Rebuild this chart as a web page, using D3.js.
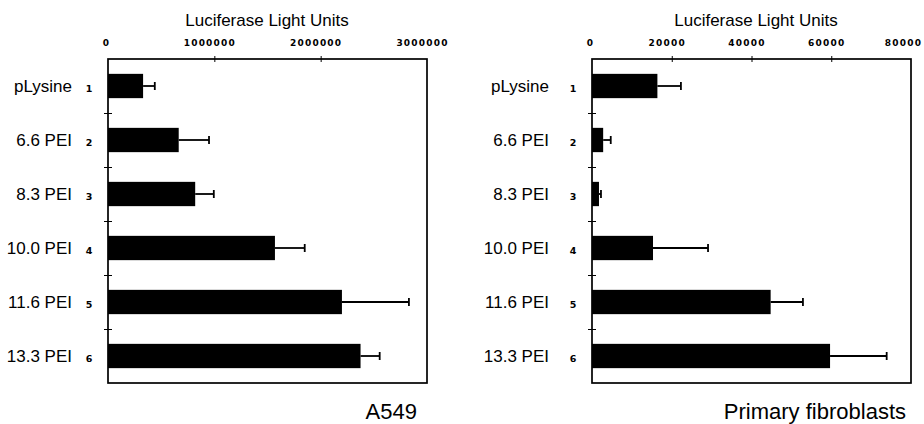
<!DOCTYPE html>
<html>
<head>
<meta charset="utf-8">
<script src="https://cdn.jsdelivr.net/npm/d3@7"></script>
<style>
  body { margin: 0; background: #fff; }
  svg { display: block; }
  text { font-family: "Liberation Sans", Arial, Helvetica, sans-serif; fill: #000; }
  .tick-label { font-family: "DejaVu Sans", sans-serif; font-weight: bold; font-size: 9px; letter-spacing: 1.2px; }
  .row-num { font-family: "DejaVu Sans", sans-serif; font-weight: bold; font-size: 9.5px; }
</style>
</head>
<body>
<div id="chart"></div>
<script>
const categories = ["pLysine", "6.6 PEI", "8.3 PEI", "10.0 PEI", "11.6 PEI", "13.3 PEI"];
const rowNumbers = ["1", "2", "3", "4", "5", "6"];

const a549Values = [330000, 665000, 820000, 1570000, 2200000, 2375000];
const a549Errors = [110000, 285000, 175000, 280000, 630000, 180000];
const a549Ticks = [0, 1000000, 2000000, 3000000];

const fibroValues = [16400, 2800, 1750, 15300, 44800, 59700];
const fibroErrors = [5900, 1900, 500, 13800, 8100, 14200];
const fibroTicks = [0, 20000, 40000, 60000, 80000];

const axisTitle = "Luciferase Light Units";

const width = 924, height = 424;
const plotTop = 59, plotBottom = 383;

const svg = d3.select("#chart").append("svg")
    .attr("width", width)
    .attr("height", height);

function drawPanel(opts) {
    const x = d3.scaleLinear()
        .domain([0, d3.max(opts.ticks)])
        .range([opts.left, opts.right]);

    const y = d3.scaleBand()
        .domain(categories)
        .range([plotTop, plotBottom])
        .paddingInner(0.55)
        .paddingOuter(0.275);

    // boundary scale for the little ticks between rows
    const rows = d3.scaleLinear().domain([0, categories.length]).range([plotTop, plotBottom]);

    const g = svg.append("g");
    const maxTick = d3.max(opts.ticks);

    // top axis
    const xAxis = g.append("g")
        .attr("transform", "translate(0," + plotTop + ")")
        .call(d3.axisTop(x)
            .tickValues(opts.ticks)
            .tickFormat(d3.format("d"))
            .tickSizeOuter(0)
            .tickSizeInner(4)
            .tickPadding(9));
    xAxis.select(".domain").remove();
    xAxis.attr("font-size", null).attr("font-family", null);
    xAxis.selectAll(".tick line")
        .attr("y1", -3).attr("y2", 3)
        .attr("stroke-width", 1)
        .filter(d => d === 0 || d === maxTick).remove();
    xAxis.selectAll(".tick text")
        .attr("class", "tick-label")
        .attr("dx", d => d === 0 ? -2 : (d === maxTick && opts.clampLast ? -8 : -5));

    // left ticks at row boundaries
    const yAxis = g.append("g")
        .attr("transform", "translate(" + opts.left + ",0)")
        .call(d3.axisLeft(rows)
            .tickValues(d3.range(1, categories.length))
            .tickFormat("")
            .tickSizeOuter(0));
    yAxis.select(".domain").remove();
    yAxis.selectAll(".tick line").attr("x1", -4).attr("x2", 4).attr("stroke-width", 1);

    // frame
    g.append("rect")
        .attr("x", opts.left)
        .attr("y", plotTop)
        .attr("width", opts.right - opts.left)
        .attr("height", plotBottom - plotTop)
        .attr("fill", "none")
        .attr("stroke", "#000")
        .attr("stroke-width", 1.7);

    // bars
    g.selectAll(".bar")
        .data(opts.values)
        .enter()
        .append("rect")
        .attr("class", "bar")
        .attr("x", x(0))
        .attr("y", (d, i) => y(categories[i]))
        .attr("width", d => x(d) - x(0))
        .attr("height", y.bandwidth())
        .attr("fill", "#000");

    // error bars
    const err = g.selectAll(".err")
        .data(opts.values)
        .enter()
        .append("g")
        .attr("class", "err")
        .attr("stroke", "#000")
        .attr("stroke-width", 1.8);
    err.append("line")
        .attr("x1", d => x(d))
        .attr("x2", (d, i) => x(d + opts.errors[i]))
        .attr("y1", (d, i) => y(categories[i]) + y.bandwidth() / 2)
        .attr("y2", (d, i) => y(categories[i]) + y.bandwidth() / 2);
    err.append("line")
        .attr("x1", (d, i) => x(d + opts.errors[i]))
        .attr("x2", (d, i) => x(d + opts.errors[i]))
        .attr("y1", (d, i) => y(categories[i]) + y.bandwidth() / 2 - 4)
        .attr("y2", (d, i) => y(categories[i]) + y.bandwidth() / 2 + 4);

    // category labels
    g.selectAll(".cat")
        .data(categories)
        .enter()
        .append("text")
        .attr("class", "cat")
        .attr("x", opts.left - opts.labelGap)
        .attr("y", d => y(d) + y.bandwidth() / 2 + 6)
        .attr("text-anchor", "end")
        .attr("font-size", 17)
        .text(d => d);

    g.selectAll(".row-num")
        .data(rowNumbers)
        .enter()
        .append("text")
        .attr("class", "row-num")
        .attr("x", opts.left - 19)
        .attr("y", (d, i) => y(categories[i]) + y.bandwidth() / 2 + 6)
        .attr("text-anchor", "middle")
        .text(d => d);

    // axis title
    g.append("text")
        .attr("x", opts.titleX)
        .attr("y", 26)
        .attr("text-anchor", "middle")
        .attr("font-size", 17)
        .text(axisTitle);

    // panel name
    g.append("text")
        .attr("x", opts.nameX)
        .attr("y", 419)
        .attr("text-anchor", "end")
        .attr("font-size", 22)
        .text(opts.name);
}

drawPanel({
    left: 108, right: 427,
    values: a549Values, errors: a549Errors, ticks: a549Ticks,
    labelGap: 36, titleX: 267, nameX: 417, name: "A549", clampLast: false
});

drawPanel({
    left: 592, right: 911,
    values: fibroValues, errors: fibroErrors, ticks: fibroTicks,
    labelGap: 43, titleX: 756, nameX: 906, name: "Primary fibroblasts", clampLast: true
});
</script>
</body>
</html>
